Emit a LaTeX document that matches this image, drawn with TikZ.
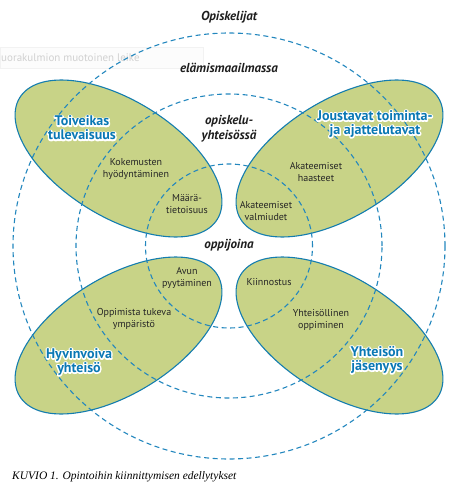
\documentclass[tikz,border=0pt]{standalone}
\usepackage{fontspec}
\setmainfont{PT Sans}
\newfontfamily\capfont{Liberation Serif}
\definecolor{ellfill}{RGB}{200,211,135}
\definecolor{ellline}{RGB}{20,125,175}
\definecolor{dashblue}{RGB}{35,135,190}
\definecolor{lblblue}{RGB}{10,120,180}
\definecolor{headgray}{RGB}{30,30,30}
\tikzset{
  ellshape/.style={fill=ellfill, draw=ellline, line width=1.1pt},
  ring/.style={draw=dashblue, line width=1.1pt, dash pattern=on 5pt off 3.5pt},
  head/.style={font=\bfseries\itshape\fontsize{13}{15}\selectfont, text=headgray, align=center, inner sep=0pt},
  small/.style={font=\fontsize{10}{12}\selectfont, text=black!85, align=center, inner sep=0pt},
  bl/.style={font=\bfseries\fontsize{14}{14}\selectfont, text=lblblue, align=center, inner sep=0pt},
}
% white outlined text: stroked white copy under the filled blue text
\newcommand\halo[1]{\rlap{\special{pdf:literal direct 1 Tr 2.6 w 1 j 1 1 1 RG}#1\special{pdf:literal direct 0 Tr}}#1}
\begin{document}
\begin{tikzpicture}[x=1pt,y=-1pt]
\useasboundingbox (0,0) rectangle (458,492);
% faint leftover box
\node[draw=black!5, fill=black!1, minimum width=203pt, minimum height=21pt, anchor=west, inner sep=0pt] (ghostbox) at (0,58) {};
\node[anchor=west, text=black!18, font=\fontsize{11}{13}\selectfont, inner sep=0pt] (ghost) at (1,58) {uorakulmion muotoinen leike};
% ellipses
\draw[ellshape, shift={(118.5,158.5)}, rotate=-31.6] (0,0) ellipse [x radius=116pt, y radius=58.3pt];
\draw[ellshape, shift={(339.5,158.5)}, rotate=31.6] (0,0) ellipse [x radius=116pt, y radius=58.3pt];
\draw[ellshape, shift={(118.5,335.5)}, rotate=31.6] (0,0) ellipse [x radius=116pt, y radius=58.3pt];
\draw[ellshape, shift={(339.5,335.5)}, rotate=-31.6] (0,0) ellipse [x radius=116pt, y radius=58.3pt];
% dashed rings
\draw[ring] (229,246) ellipse [x radius=216pt, y radius=213pt];
\draw[ring] (229,246) ellipse [x radius=153pt, y radius=152pt];
\draw[ring] (229,246) ellipse [x radius=83.5pt, y radius=82pt];
% ring headings
\node[head] (h1) at (229,17) {Opiskelijat};
\node[head] (h2) at (229,68) {elämismaailmassa};
\node[head] (h3) at (229,129) {opiskelu-\\yhteisössä};
\node[head] (h4) at (229,245) {oppijoina};
% small labels
\node[small] (s1) at (136,169) {Kokemusten\\hyödyntäminen};
\node[small] (s2) at (187,204) {Määrä-\\tietoisuus};
\node[small] (s3) at (316,172) {Akateemiset\\haasteet};
\node[small] (s4) at (266,211) {Akateemiset\\valmiudet};
\node[small] (s5) at (187,278) {Avun\\pyytäminen};
\node[small] (s6) at (134,319) {Oppimista tukeva\\ympäristö};
\node[small] (s7) at (269,282) {Kiinnostus};
\node[small] (s8) at (321,320) {Yhteisöllinen\\oppiminen};
% caption
\node[anchor=west, inner sep=0pt, font=\capfont\itshape\fontsize{11.5}{13}\selectfont] (cap) at (12,477) {KUVIO 1. Opintoihin kiinnittymisen edellytykset};
% blue labels
\node[bl] (tl) at (82,128) {\halo{Toiveikas}\\\halo{tulevaisuus}};
\node[bl] (tr) at (375,124) {\halo{Joustavat toiminta-}\\\halo{ja ajattelutavat}};
\node[bl] (bl) at (79,362) {\halo{Hyvinvoiva}\\\halo{yhteisö}};
\node[bl] (br) at (377,360) {\halo{Yhteisön}\\\halo{jäsenyys}};
\end{tikzpicture}
\end{document}
